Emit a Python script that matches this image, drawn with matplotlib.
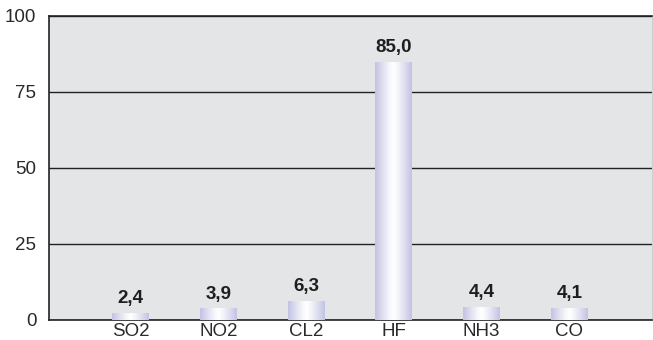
import matplotlib
matplotlib.use("Agg")
import matplotlib.pyplot as plt
import numpy as np

plt.rcParams['font.family'] = ['Liberation Sans Narrow', 'Liberation Sans', 'DejaVu Sans']

gases = ["SO2", "NO2", "CL2", "HF", "NH3", "CO"]
values = [2.4, 3.9, 6.3, 85.0, 4.4, 4.1]
yticks = [0, 25, 50, 75, 100]

fig = plt.figure(figsize=(6.53, 3.40), dpi=100)
ax = fig.add_axes([49 / 653, 20 / 340, 603 / 653, 304 / 340])
ax.set_facecolor("#e4e5e7")

x = np.arange(len(gases))
bars = ax.bar(x, values, width=0.42, color="none", edgecolor="none", zorder=3)

# horizontal lavender -> white -> lavender shading inside each bar
t = np.linspace(-1, 1, 256)
shade = np.abs(t) ** 1.2
lav = np.array([0.76, 0.76, 0.89])
grad = (1 - shade)[:, None] * np.array([1.0, 1.0, 1.0]) + shade[:, None] * lav
grad = grad[None, :, :]
for b in bars:
    x0, w, h = b.get_x(), b.get_width(), b.get_height()
    im = ax.imshow(grad, extent=[x0, x0 + w, 0, h], aspect="auto", zorder=3,
                   interpolation="bilinear")
    im.set_clip_path(b)

for xi, v in zip(x, values):
    ax.annotate(f"{v:.1f}".replace(".", ","), (xi, v), xytext=(0, 4),
                textcoords="offset points", ha="center", va="bottom",
                fontsize=13.5, fontweight="bold", color="#1e1e1e", zorder=4)

ax.set_xlim(-0.928, 5.94)
ax.set_ylim(0, 100)
ax.set_yticks(yticks)
ax.set_yticklabels([str(v) for v in yticks])
ax.set_xticks(x)
ax.set_xticklabels(gases)
ax.tick_params(length=0, labelsize=13.5, colors="#2a2a2a")
ax.tick_params(axis="y", pad=9)
ax.tick_params(axis="x", pad=2)
ax.yaxis.grid(True, color="#222222", linewidth=1.0, zorder=1)
ax.set_axisbelow(True)

for s in ["left", "top", "bottom"]:
    ax.spines[s].set_color("#222222")
    ax.spines[s].set_linewidth(1.2)
ax.spines["right"].set_color("#cfd0d2")

fig.savefig("out.png", dpi=100)
